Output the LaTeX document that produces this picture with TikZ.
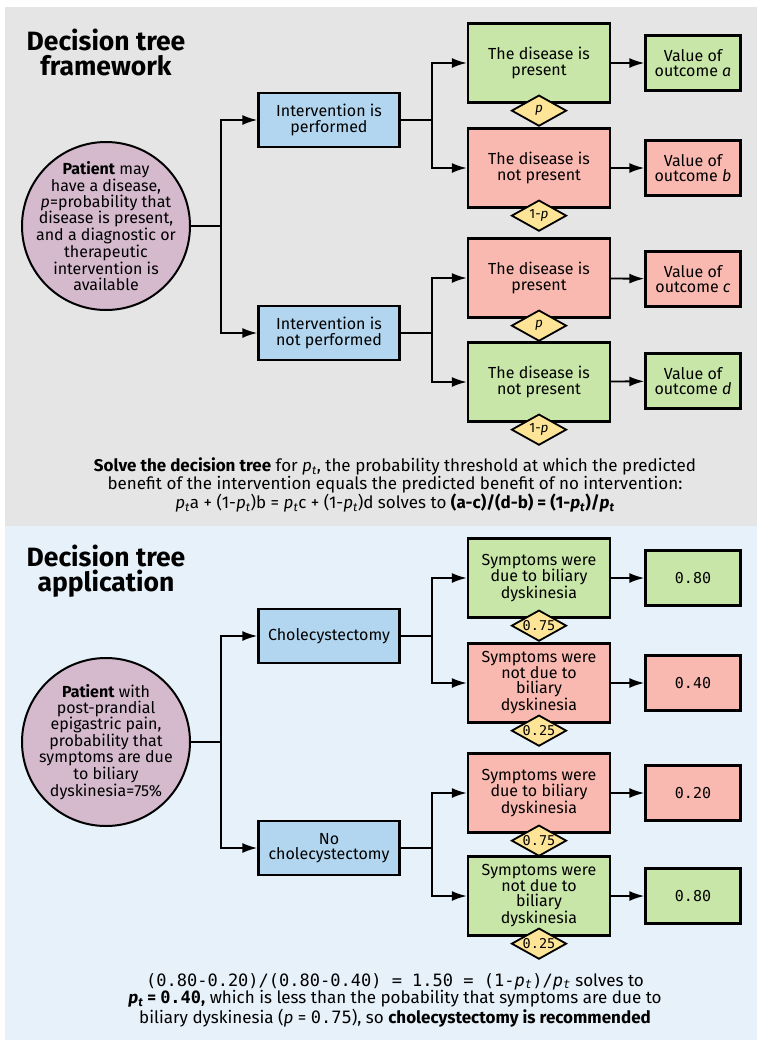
\documentclass[tikz,border=0pt]{standalone}
\usepackage{fontspec}
\setmainfont{Fira Sans}
\setmonofont{DejaVu Sans Mono}
\usepackage{tikz}
\usetikzlibrary{arrows.meta,shapes.geometric}
\definecolor{panelgray}{RGB}{229,229,229}
\definecolor{panelblue}{RGB}{231,241,249}
\definecolor{choiceblue}{RGB}{178,214,240}
\definecolor{eventgreen}{RGB}{200,230,168}
\definecolor{eventred}{RGB}{250,185,176}
\definecolor{patientpurple}{RGB}{213,186,206}
\definecolor{probyellow}{RGB}{254,228,150}
\newcommand{\pth}{\textit{p}\textsubscript{\textit{t}}}

\begin{document}
\begin{tikzpicture}[x=1pt,y=-1pt]
\tikzset{every node/.style={font=\fontsize{16}{15.5}\selectfont},
  heading/.style={align=center,font=\fontsize{26.5}{25}\selectfont\bfseries},
  patient/.style={circle,draw,line width=2pt,fill=patientpurple,minimum size=168pt,inner sep=0pt},
  choice/.style={rectangle,draw,line width=2.3pt,fill=choiceblue,minimum width=141pt,minimum height=54pt,align=center,inner sep=2pt},
  event/.style={rectangle,draw,line width=2.3pt,minimum width=142pt,minimum height=79pt,align=center,inner sep=2pt},
  outcome/.style={rectangle,draw,line width=2.3pt,minimum width=95pt,minimum height=55pt,align=center,inner sep=2pt},
  value/.style={outcome,font=\fontsize{15}{16}\selectfont\ttfamily},
  prob/.style={diamond,aspect=2,draw,line width=1.8pt,fill=probyellow,minimum width=55pt,minimum height=31pt,inner sep=0pt,font=\fontsize{13.5}{13}\selectfont},
  link/.style={line width=1.9pt,-{Latex[length=15pt,width=10pt]}},
  patienttext/.style={align=center,font=\fontsize{16}{15.5}\selectfont},
  note/.style={align=center,font=\fontsize{17}{16}\selectfont}}
\useasboundingbox (0,0) rectangle (766,1050);
\fill[panelgray] (5,7) rectangle (757,526);
\fill[panelblue] (5,526) rectangle (757,1040);

\node[heading] (head1) at (106,52) {Decision tree\\framework};
\node[patient,label={[patienttext]center:{\textbf{Patient} may\\have a disease,\\\textit{p}=probability that\\disease is present,\\and a diagnostic or\\therapeutic\\intervention is\\available}}] (patient1) at (106,226) {};
\node[choice] (int1) at (329,120) {Intervention is\\performed};
\node[choice] (int0) at (329,333) {Intervention is\\not performed};
\node[event,fill=eventgreen] (dis1) at (539,63) {The disease is\\present};
\node[event,fill=eventred] (nodis1) at (539,168) {The disease is\\not present};
\node[event,fill=eventred] (dis0) at (539,278) {The disease is\\present};
\node[event,fill=eventgreen] (nodis0) at (539,382) {The disease is\\not present};
\node[outcome,fill=eventgreen] (outa) at (693,63) {Value of\\outcome \textit{a}};
\node[outcome,fill=eventred] (outb) at (693,168) {Value of\\outcome \textit{b}};
\node[outcome,fill=eventred] (outc) at (693,279) {Value of\\outcome \textit{c}};
\node[outcome,fill=eventgreen] (outd) at (693,381) {Value of\\outcome \textit{d}};
\node[prob] (pa) at ([yshift=-7pt]dis1.south) {\textit{p}};
\node[prob] (pb) at ([yshift=-7pt]nodis1.south) {1-\textit{p}};
\node[prob] (pc) at ([yshift=-7pt]dis0.south) {\textit{p}};
\node[prob] (pd) at ([yshift=-7pt]nodis0.south) {1-\textit{p}};
\draw[link] (patient1.east) -| ([xshift=-36pt]int1.west) -- (int1.west);
\draw[link] (patient1.east) -| ([xshift=-36pt]int0.west) -- (int0.west);
\draw[link] (int1.east) -| ([xshift=-35pt]dis1.west) -- (dis1.west);
\draw[link] (int1.east) -| ([xshift=-35pt]nodis1.west) -- (nodis1.west);
\draw[link] (int0.east) -| ([xshift=-35pt]dis0.west) -- (dis0.west);
\draw[link] (int0.east) -| ([xshift=-35pt]nodis0.west) -- (nodis0.west);
\draw[link] (dis1) -- (outa);
\draw[link] (nodis1) -- (outb);
\draw[link] (dis0) -- (outc);
\draw[link] (nodis0) -- (outd);
\node[note] (sum1) at (395,485) {\textbf{Solve the decision tree} for \pth, the probability threshold at which the predicted\\benefit of the intervention equals the predicted benefit of no intervention:\\\pth a + (1-\pth)b = \pth c + (1-\pth)d solves to \textbf{(a-c)/(d-b) = (1-\pth)/\pth}};

\node[heading] (head2) at (106,571) {Decision tree\\application};
\node[patient,label={[patienttext]center:{\textbf{Patient} with\\post-prandial\\epigastric pain,\\probability that\\symptoms are due\\to biliary\\dyskinesia=75\%}}] (patient2) at (106,742) {};
\node[choice] (chol) at (329,636) {Cholecystectomy};
\node[choice] (nochol) at (329,848) {No\\cholecystectomy};
\node[event,fill=eventgreen] (due1) at (539,578) {Symptoms were\\due to biliary\\dyskinesia};
\node[event,fill=eventred] (notdue1) at (539,683) {Symptoms were\\not due to\\biliary\\dyskinesia};
\node[event,fill=eventred] (due0) at (539,793) {Symptoms were\\due to biliary\\dyskinesia};
\node[event,fill=eventgreen] (notdue0) at (539,896) {Symptoms were\\not due to\\biliary\\dyskinesia};
\node[value,fill=eventgreen] (val1) at (693,578) {0.80};
\node[value,fill=eventred] (val2) at (693,683) {0.40};
\node[value,fill=eventred] (val3) at (693,793) {0.20};
\node[value,fill=eventgreen] (val4) at (693,896) {0.80};
\node[prob] (q1) at ([yshift=-7pt]due1.south) {\texttt{0.75}};
\node[prob] (q2) at ([yshift=-7pt]notdue1.south) {\texttt{0.25}};
\node[prob] (q3) at ([yshift=-7pt]due0.south) {\texttt{0.75}};
\node[prob] (q4) at ([yshift=-7pt]notdue0.south) {\texttt{0.25}};
\draw[link] (patient2.east) -| ([xshift=-36pt]chol.west) -- (chol.west);
\draw[link] (patient2.east) -| ([xshift=-36pt]nochol.west) -- (nochol.west);
\draw[link] (chol.east) -| ([xshift=-35pt]due1.west) -- (due1.west);
\draw[link] (chol.east) -| ([xshift=-35pt]notdue1.west) -- (notdue1.west);
\draw[link] (nochol.east) -| ([xshift=-35pt]due0.west) -- (due0.west);
\draw[link] (nochol.east) -| ([xshift=-35pt]notdue0.west) -- (notdue0.west);
\draw[link] (due1) -- (val1);
\draw[link] (notdue1) -- (val2);
\draw[link] (due0) -- (val3);
\draw[link] (notdue0) -- (val4);
\node[note] (sum2) at (395,1000) {\texttt{(0.80-0.20)/(0.80-0.40) = 1.50 = (1-\textit{p}\textsubscript{\textit{t}})/\textit{p}\textsubscript{\textit{t}}} solves to\\\textbf{\pth{} = \texttt{0.40},} which is less than the pobability that symptoms are due to\\biliary dyskinesia (\textit{p} = \texttt{0.75}), so \textbf{cholecystectomy is recommended}};
\end{tikzpicture}
\end{document}
